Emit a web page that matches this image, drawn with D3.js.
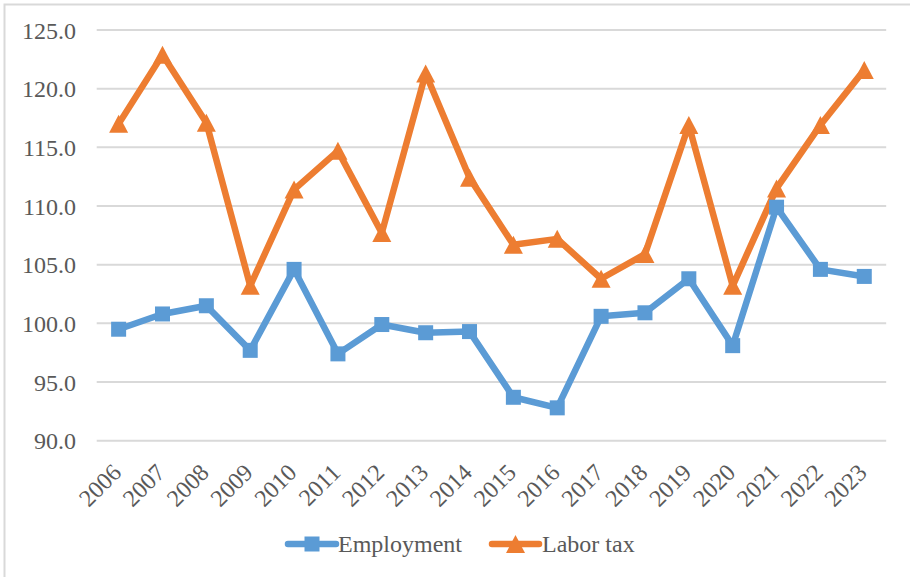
<!DOCTYPE html>
<html>
<head>
<meta charset="utf-8">
<script src="https://cdn.jsdelivr.net/npm/d3@7"></script>
<style>
  html, body { margin: 0; padding: 0; background: #fff; }
  svg { display: block; }
  svg text { font-family: "Liberation Serif", "Times New Roman", "DejaVu Serif", serif; }
</style>
</head>
<body>
<svg id="chart" width="910" height="577"></svg>
<script>
const years = ["2006","2007","2008","2009","2010","2011","2012","2013","2014","2015","2016","2017","2018","2019","2020","2021","2022","2023"];
const employment = [99.5, 100.8, 101.5, 97.7, 104.6, 97.4, 99.9, 99.2, 99.3, 93.7, 92.8, 100.6, 100.9, 103.8, 98.1, 109.9, 104.6, 104.0];
const laborTax = [117.0, 122.9, 117.1, 103.2, 111.4, 114.7, 107.7, 121.3, 112.4, 106.7, 107.2, 103.8, 105.9, 116.9, 103.2, 111.5, 116.9, 121.6];
const yTicks = [90, 95, 100, 105, 110, 115, 120, 125];
const seriesNames = ["Employment", "Labor tax"];
const colors = ["#5B9BD5", "#ED7D31"];

const svg = d3.select("#chart");
const textColor = "#595959";

// outer border (only top and left visible)
svg.append("rect")
  .attr("x", 4.5).attr("y", 4.5)
  .attr("width", 920).attr("height", 600)
  .attr("fill", "none").attr("stroke", "#D9D9D9").attr("stroke-width", 2);

const x = d3.scaleBand().domain(years).range([96.7, 886.2]);
const y = d3.scaleLinear().domain([90, 125]).range([440.7, 30]);

// gridlines
svg.append("g").selectAll("line").data(yTicks).join("line")
  .attr("x1", 96.7).attr("x2", 886.2)
  .attr("y1", d => y(d)).attr("y2", d => y(d))
  .attr("stroke", "#D9D9D9").attr("stroke-width", 2);

// y axis labels
const yAxis = d3.axisLeft(y).tickValues(yTicks).tickFormat(d3.format(".1f")).tickSize(0).tickPadding(0);
const gy = svg.append("g").attr("transform", "translate(76,0)").call(yAxis);
gy.attr("font-family", null);
gy.select(".domain").remove();
gy.selectAll("text")
  .attr("font-size", 24).attr("fill", textColor)
  .attr("dy", "0.34em");

// x axis labels
const xAxis = d3.axisBottom(x).tickSize(0).tickPadding(0);
const gx = svg.append("g").call(xAxis);
gx.attr("font-family", null);
gx.select(".domain").remove();
gx.selectAll(".tick").attr("transform", d => `translate(${x(d) + x.bandwidth() / 2 + 4},474)`);
gx.selectAll("text")
  .attr("font-size", 24).attr("fill", textColor)
  .attr("text-anchor", "end").attr("x", 0).attr("y", 0).attr("dy", 0)
  .attr("transform", "rotate(-45)");

const cx = d => x(d) + x.bandwidth() / 2;
const line = d3.line().x((d, i) => cx(years[i])).y(d => y(d));

const data = [employment, laborTax];
data.forEach((vals, si) => {
  svg.append("path").datum(vals)
    .attr("d", line)
    .attr("fill", "none").attr("stroke", colors[si])
    .attr("stroke-width", 6.5).attr("stroke-linejoin", "round").attr("stroke-linecap", "round");
});

// markers
const sq = 15;
svg.append("g").selectAll("rect").data(employment).join("rect")
  .attr("x", (d, i) => cx(years[i]) - sq / 2)
  .attr("y", d => y(d) - sq / 2)
  .attr("width", sq).attr("height", sq)
  .attr("fill", colors[0]);

const triW = 19, triH = 18;
const triPath = (px, py) => `M${px},${py - triH / 2}L${px + triW / 2},${py + triH / 2}L${px - triW / 2},${py + triH / 2}Z`;
svg.append("g").selectAll("path").data(laborTax).join("path")
  .attr("d", (d, i) => triPath(cx(years[i]), y(d)))
  .attr("fill", colors[1]);

// legend
const legendItems = [
  { name: seriesNames[0], color: colors[0], x1: 288, x2: 336, tx: 338, marker: "square" },
  { name: seriesNames[1], color: colors[1], x1: 492, x2: 539, tx: 542, marker: "triangle" }
];
const ly = 544;
legendItems.forEach(it => {
  svg.append("line").attr("x1", it.x1).attr("x2", it.x2).attr("y1", ly).attr("y2", ly)
    .attr("stroke", it.color).attr("stroke-width", 6.5).attr("stroke-linecap", "round");
  const mx = (it.x1 + it.x2) / 2;
  if (it.marker === "square") {
    svg.append("rect").attr("x", mx - 7.5).attr("y", ly - 7.5).attr("width", 15).attr("height", 15).attr("fill", it.color);
  } else {
    svg.append("path").attr("d", triPath(mx, ly)).attr("fill", it.color);
  }
  svg.append("text").attr("x", it.tx).attr("y", ly + 8)
    .attr("font-size", 24).attr("fill", textColor)
    .text(it.name);
});
</script>
</body>
</html>
